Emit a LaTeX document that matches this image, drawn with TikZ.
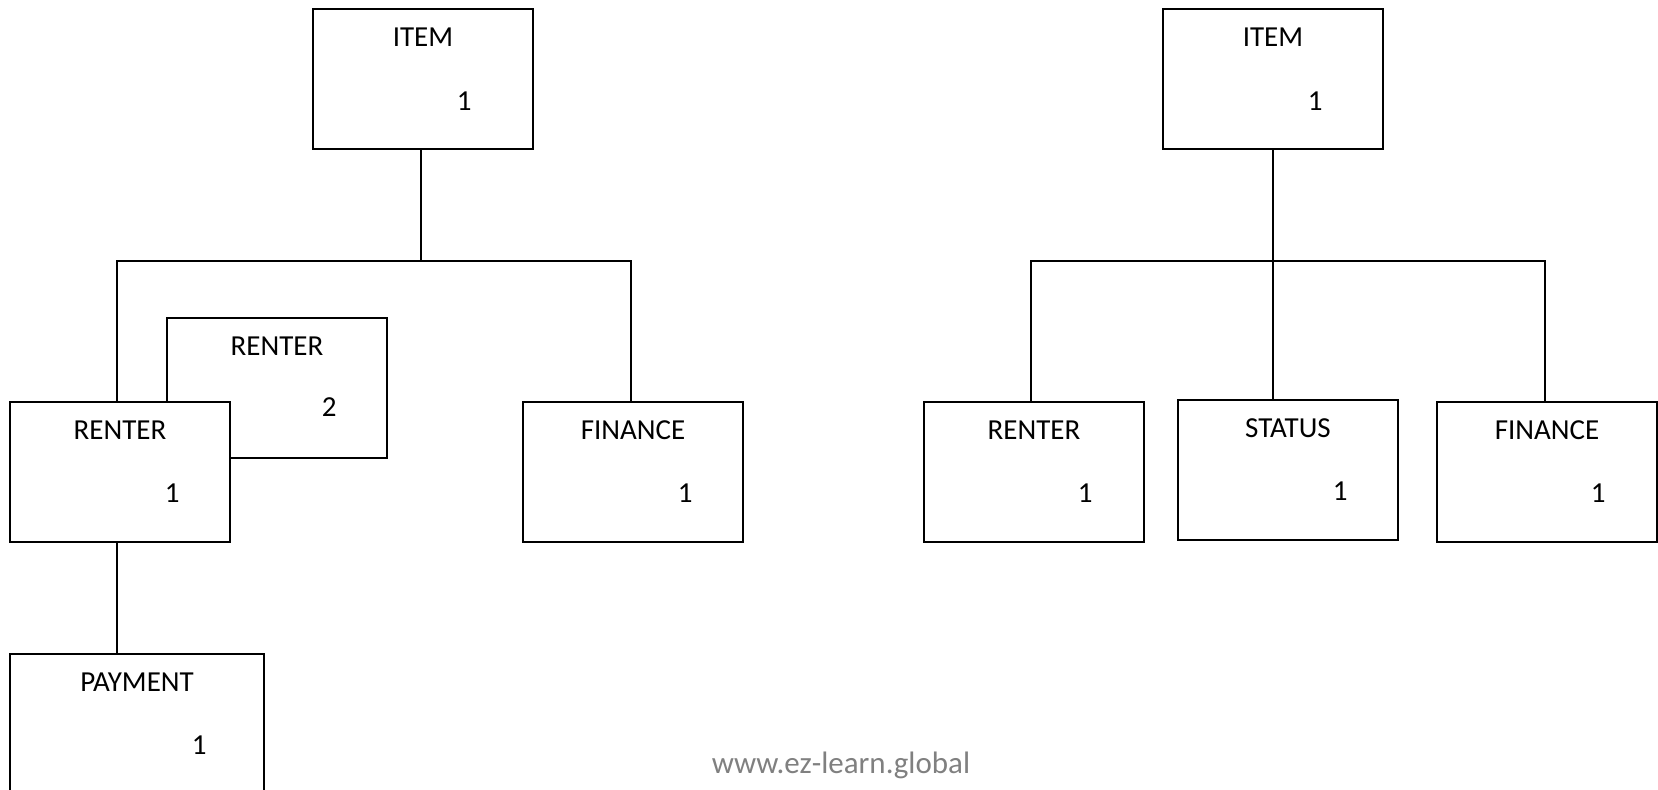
\documentclass[tikz,border=0pt]{standalone}
\usepackage{fontspec}
\setmainfont{Carlito}
\usetikzlibrary{calc}
\begin{document}
\begin{tikzpicture}[x=1pt,y=-1pt,
  entity/.style={draw=black,line width=1.6pt,fill=white,rectangle,inner sep=0pt,
    minimum width=220pt,minimum height=140pt},
  txt/.style={inner sep=0pt,font=\fontsize{29pt}{31pt}\selectfont},
  link/.style={draw=black,line width=1.6pt}]
\useasboundingbox (0,0) rectangle (1658,790);

% left tree
\node[entity] (itemL) at (423,79) {};
\node[txt] (itemLt) at ($(itemL.north)+(0,29)$) {ITEM};
\node[txt] (itemLn) at ($(itemL.north west)+(152,93)$) {1};

\node[entity] (rtwo) at (277,388) {};
\node[txt] (rtwot) at ($(rtwo.north)+(0,29)$) {RENTER};
\node[txt] (rtwon) at ($(rtwo.north west)+(163,90)$) {2};

\node[entity] (rone) at (120,472) {};
\node[txt] (ronet) at ($(rone.north)+(0,29)$) {RENTER};
\node[txt] (ronen) at ($(rone.north west)+(163,92)$) {1};

\node[entity] (finL) at (633,472) {};
\node[txt] (finLt) at ($(finL.north)+(0,29)$) {FINANCE};
\node[txt] (finLn) at ($(finL.north west)+(163,92)$) {1};

\node[entity,minimum width=254pt] (pay) at (137,724) {};
\node[txt] (payt) at ($(pay.north)+(0,29)$) {PAYMENT};
\node[txt] (payn) at ($(pay.north west)+(190,92)$) {1};

% connectors of the left tree
\coordinate (itemLbot) at (421,149);
\coordinate (busL) at (421,261);
\coordinate (rtop) at (117,402);
\coordinate (rbot) at (117,542);
\coordinate (fLtop) at (631,402);
\draw[link] (itemLbot) -- (busL);
\draw[link] (rtop) |- (busL) -| (fLtop);
\draw[link] (rbot) -- (rbot |- pay.north);

% right tree
\node[entity] (itemR) at (1273,79) {};
\node[txt] (itemRt) at ($(itemR.north)+(0,29)$) {ITEM};
\node[txt] (itemRn) at ($(itemR.north west)+(153,93)$) {1};

\node[entity] (rR) at (1034,472) {};
\node[txt] (rRt) at ($(rR.north)+(0,29)$) {RENTER};
\node[txt] (rRn) at ($(rR.north west)+(162,92)$) {1};

\node[entity] (stat) at (1288,470) {};
\node[txt] (statt) at ($(stat.north)+(0,29)$) {STATUS};
\node[txt] (statn) at ($(stat.north west)+(163,92)$) {1};

\node[entity] (finR) at (1547,472) {};
\node[txt] (finRt) at ($(finR.north)+(0,29)$) {FINANCE};
\node[txt] (finRn) at ($(finR.north west)+(162,92)$) {1};

% connectors of the right tree
\coordinate (busR) at (1273,261);
\coordinate (rRtop) at (1031,402);
\coordinate (fRtop) at (1545,402);
\draw[link] (itemR.south) -- (itemR.south |- stat.north);
\draw[link] (rRtop) |- (busR) -| (fRtop);

% footer
\node[inner sep=0pt,text=black!50,font=\fontsize{31pt}{33pt}\selectfont] (web) at (841,765) {www.ez-learn.global};
\end{tikzpicture}
\end{document}
